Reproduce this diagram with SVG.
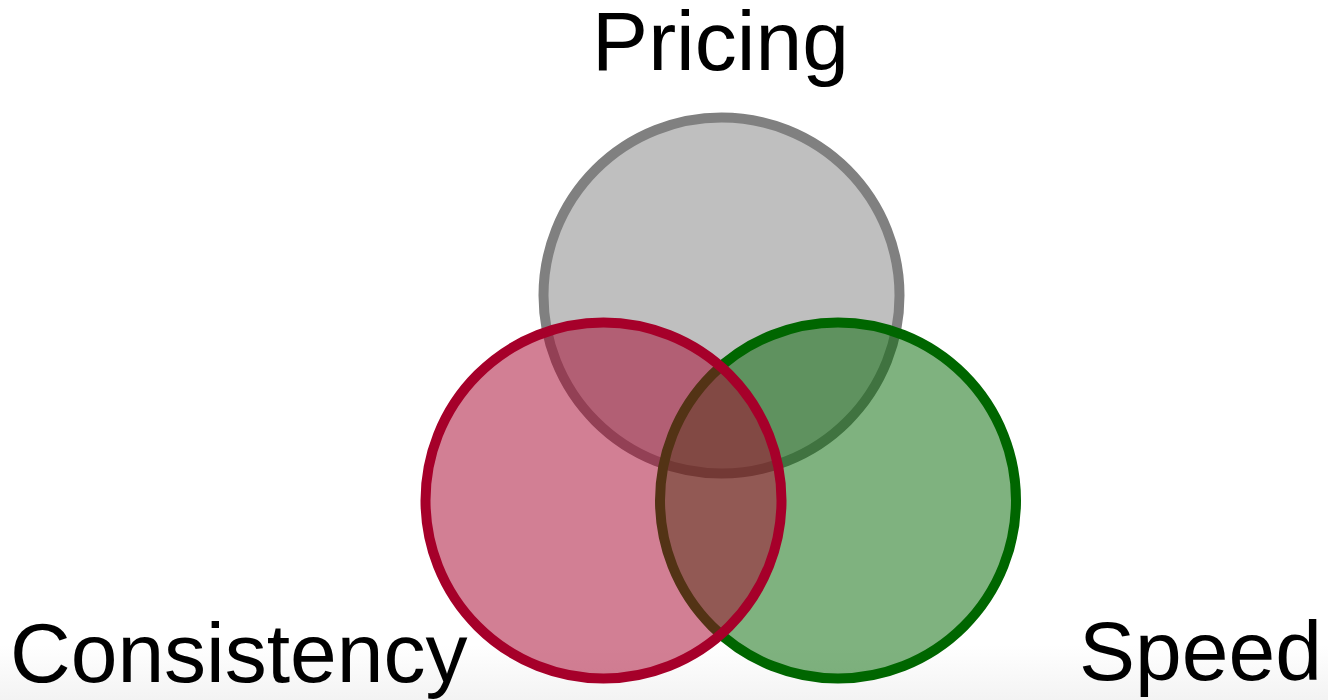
<svg xmlns="http://www.w3.org/2000/svg" width="1328" height="700" viewBox="0 0 1328 700">
  <defs>
    <linearGradient id="floor" x1="0" y1="0" x2="0" y2="1">
      <stop offset="0" stop-color="#ffffff"/>
      <stop offset="1" stop-color="#f3f3f3"/>
    </linearGradient>
    <style>
      .ring { stroke-width: 10; }
      .label { font-family: "Liberation Sans", Arial, sans-serif; font-size: 84px; fill: #000000; }
    </style>
  </defs>
  <rect x="0" y="0" width="1328" height="700" fill="#ffffff"/>
  <rect x="0" y="645" width="1328" height="55" fill="url(#floor)"/>

  <g id="pricing">
    <circle class="ring" cx="721.5" cy="295.5" r="178" fill="rgba(128,128,128,0.5)" stroke="#808080"/>
    <text class="label" x="720.5" y="70" text-anchor="middle">Pricing</text>
  </g>
  <g id="speed">
    <circle class="ring" cx="838" cy="500.5" r="178" fill="rgba(0,102,0,0.5)" stroke="#006600"/>
    <text class="label" x="1322" y="680" text-anchor="end">Speed</text>
  </g>
  <g id="consistency">
    <circle class="ring" cx="603.5" cy="500.5" r="178" fill="rgba(166,0,42,0.5)" stroke="#A6002A"/>
    <text class="label" x="10" y="682">Consistency</text>
  </g>
  <g id="connectors"/>
</svg>
